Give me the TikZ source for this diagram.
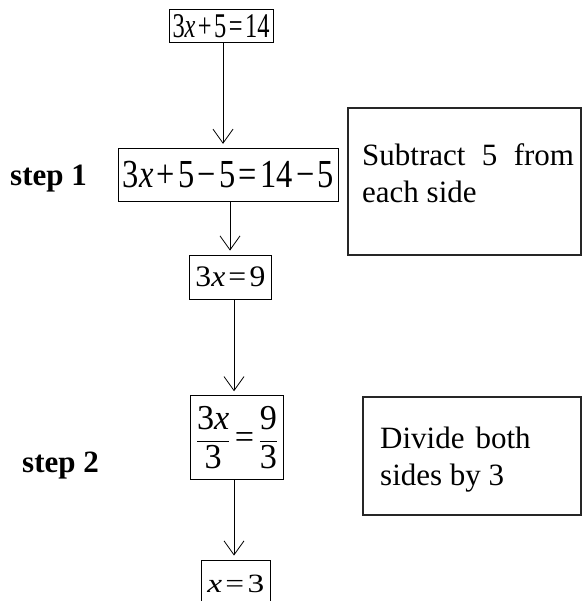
\documentclass[tikz,border=0pt]{standalone}
\usepackage{fontspec}
\setmainfont{Liberation Serif}
\usepackage{graphicx}
\usetikzlibrary{arrows.meta}
\newcommand{\myeq}[3]{\resizebox*{#1}{#2}{\fontsize{30}{36}\selectfont #3}}
\newcommand{\opsp}{\kern3pt}
\begin{document}
\begin{tikzpicture}[x=1pt,y=-1pt,
  eqbox/.style={draw=black, line width=0.9pt, inner sep=0pt},
  notebox/.style={draw=black!85, line width=2.2pt, inner sep=0pt},
  arr/.style={line width=0.8pt, -{Straight Barb[length=14pt,width=20pt,line width=0.8pt]}, shorten >=4pt},
  steplabel/.style={anchor=base west, inner sep=0pt, font=\fontsize{31}{37}\selectfont\bfseries},
  notetext/.style={anchor=base west, inner sep=0pt, font=\fontsize{31}{37}\selectfont}]
\useasboundingbox (0,0) rectangle (582,601);
\clip (0,0) rectangle (582,601);

% equation boxes
\node[eqbox, minimum width=104pt, minimum height=33pt] (b1) at (221,25.7)
  {\myeq{97pt}{23.3pt}{3\textit{x}\opsp+\opsp5\opsp=\opsp14}};
\node[eqbox, minimum width=220pt, minimum height=53.4pt] (b2) at (228.3,175)
  {\myeq{211pt}{26.7pt}{3\textit{x}\opsp+\opsp5\opsp−\opsp5\opsp=\opsp14\opsp−\opsp5}};
\node[eqbox, minimum width=82.7pt, minimum height=44.3pt] (b3) at (230.4,277.2)
  {\myeq{70pt}{20pt}{3\textit{x}\opsp=\opsp9}};
\node[eqbox, minimum width=92.6pt, minimum height=83.6pt] (b4) at (237,437.5)
  {\myeq{80pt}{63pt}{\nulldelimiterspace=0pt$\displaystyle\frac{\mbox{3\textit{x}}}{\mbox{3}}\mbox{\,=\,}\frac{\mbox{9}}{\mbox{3}}$}};
\node[eqbox, minimum width=68.3pt, minimum height=47pt] (b5) at (235.8,583.5)
  {\myeq{57pt}{17.7pt}{\textit{x}\opsp=\opsp3}};

% step labels
\node[steplabel] (s1) at (10,186) {step 1};
\node[steplabel] (s2) at (22,472.7) {step 2};

% note boxes
\node[notebox, minimum width=233pt, minimum height=147pt] (n1) at (464.5,181.5) {};
\node[notetext] (n1a) at (362,165.7) {Subtract\hspace{16.4pt}5\hspace{16.4pt}from};
\node[notetext] (n1b) at (362,203) {each side};

\node[notebox, minimum width=218.3pt, minimum height=118.3pt] (n2) at (471.85,455.85) {};
\node[notetext] (n2a) at (380,448.3) {Divide\hspace{11pt}both};
\node[notetext] (n2b) at (380,485) {sides by 3};

% connectors
\coordinate (x1) at (223,0);
\coordinate (x2) at (230,0);
\coordinate (x3) at (234,0);
\draw[arr] (b1.south -| x1) -- (b2.north -| x1);
\draw[arr] (b2.south -| x2) -- (b3.north -| x2);
\draw[arr] (b3.south -| x3) -- (b4.north -| x3);
\draw[arr] (b4.south -| x3) -- (b5.north -| x3);
\end{tikzpicture}
\end{document}
